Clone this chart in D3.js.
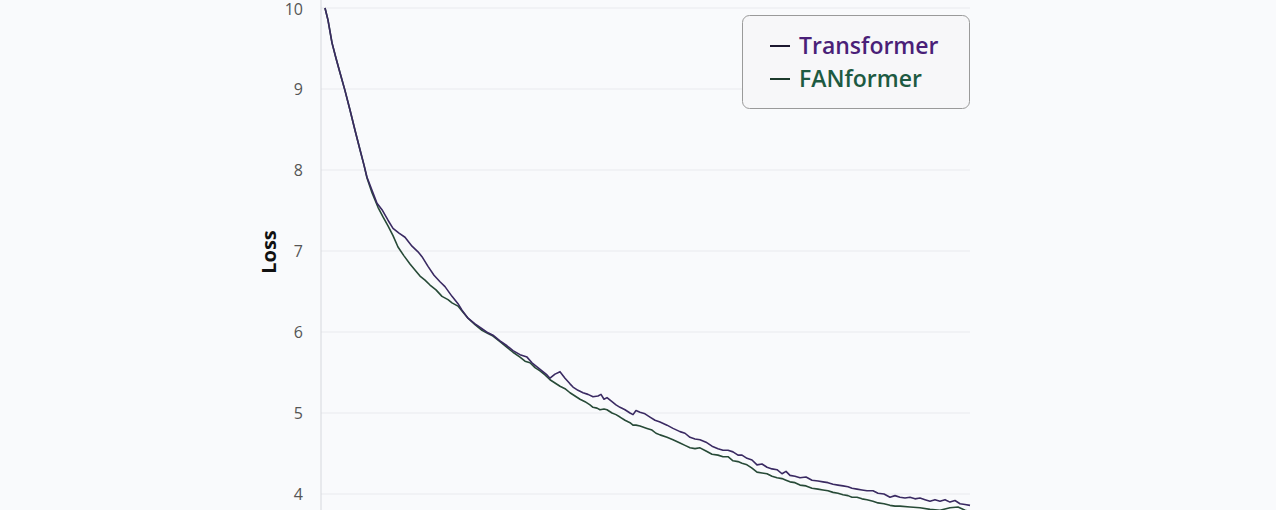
<!DOCTYPE html>
<html><head><meta charset="utf-8">
<script src="https://cdn.jsdelivr.net/npm/d3@7/dist/d3.min.js"></script>
<style>
html,body{margin:0;padding:0;background:#f9fafc;overflow:hidden;}
svg{display:block;}
</style></head>
<body>
<svg id="chart" width="1276" height="510"></svg>
<script>
const yTicks = [4,5,6,7,8,9,10];
const seriesNames = ["Transformer","FANformer"];
const seriesColors = ["#3a2a62","#274a37"];
const legendColors = ["#4a1f78","#1d5a42"];
const transformerSteps = [0,3,7,11,15,20,25,30,35,39,42,47,52,57,63,68,74,80,87,93,97,103,109,115,120,127,133,137,143,150,157,163,168,175,182,188,195,202,207,212,217,222,225,230,235,240,245,248,253,258,263,268,273,276,279,282,287,291,295,300,305,308,311,315,320,325,330,335,342,348,355,360,365,370,375,381,387,393,398,403,408,413,417,422,427,432,437,442,447,452,457,461,465,470,475,481,487,493,498,503,508,513,518,523,527,532,537,542,548,553,559,565,570,575,580,585,590,595,600,605,610,615,620,625,630,635,640,645];
const transformerLoss = [10.00,9.85,9.57,9.38,9.20,8.98,8.74,8.49,8.25,8.06,7.91,7.75,7.59,7.51,7.38,7.28,7.22,7.17,7.06,6.99,6.93,6.81,6.70,6.62,6.56,6.44,6.35,6.27,6.17,6.10,6.04,5.99,5.96,5.89,5.83,5.77,5.72,5.69,5.62,5.57,5.52,5.47,5.43,5.48,5.51,5.43,5.36,5.32,5.28,5.25,5.23,5.20,5.21,5.23,5.17,5.19,5.14,5.10,5.07,5.04,5.00,4.98,5.03,5.01,4.99,4.95,4.91,4.89,4.85,4.81,4.77,4.75,4.70,4.68,4.67,4.64,4.59,4.56,4.54,4.54,4.52,4.48,4.48,4.44,4.42,4.36,4.37,4.33,4.31,4.30,4.25,4.28,4.23,4.22,4.20,4.21,4.17,4.16,4.15,4.14,4.12,4.11,4.10,4.09,4.07,4.06,4.05,4.04,4.04,4.01,4.00,3.96,3.98,3.96,3.95,3.96,3.94,3.95,3.93,3.91,3.93,3.91,3.93,3.90,3.92,3.88,3.87,3.86];
const fanformerSteps = [0,3,7,11,15,20,25,30,35,39,42,47,53,58,63,68,73,79,85,91,95,100,105,111,117,123,127,133,137,143,150,157,163,168,175,182,188,195,200,205,210,215,220,225,230,235,240,245,250,255,260,265,268,272,275,279,282,287,291,295,300,305,308,311,315,322,327,331,335,342,348,355,360,365,370,375,381,387,393,398,403,408,413,417,422,427,432,437,442,447,452,457,461,465,470,475,481,487,493,498,503,508,513,518,523,527,532,537,542,548,553,559,565,570,575,585,595,605,615,625,633,640,645];
const fanformerLoss = [10.00,9.85,9.57,9.38,9.20,8.98,8.74,8.49,8.25,8.06,7.90,7.72,7.54,7.42,7.31,7.19,7.05,6.94,6.84,6.75,6.69,6.64,6.58,6.52,6.44,6.40,6.36,6.32,6.26,6.17,6.09,6.02,5.98,5.95,5.88,5.81,5.75,5.69,5.64,5.62,5.56,5.52,5.47,5.41,5.37,5.33,5.30,5.25,5.21,5.17,5.14,5.10,5.07,5.06,5.04,5.05,5.04,5.00,4.98,4.95,4.91,4.88,4.85,4.85,4.84,4.81,4.79,4.75,4.73,4.70,4.67,4.63,4.60,4.57,4.56,4.57,4.53,4.49,4.48,4.46,4.46,4.41,4.40,4.38,4.36,4.32,4.27,4.26,4.25,4.22,4.20,4.19,4.17,4.15,4.14,4.11,4.10,4.07,4.06,4.05,4.04,4.02,4.01,3.99,3.98,3.96,3.96,3.94,3.93,3.91,3.89,3.88,3.86,3.85,3.85,3.84,3.83,3.81,3.80,3.83,3.84,3.80,3.78];

const svg = d3.select("#chart");
const x = d3.scaleLinear().domain([0,645]).range([325,970]);
const y = d3.scaleLinear().domain([4,10]).range([494,8]);

// gridlines
svg.append("g").selectAll("line").data(yTicks).join("line")
  .attr("x1",321).attr("x2",970)
  .attr("y1",d=>y(d)).attr("y2",d=>y(d))
  .attr("stroke","#e9eaee").attr("stroke-width",1);

// y axis
const yAxis = d3.axisLeft(y).tickValues(yTicks).tickSize(0).tickPadding(18).tickFormat(d3.format("d"));
const ga = svg.append("g").attr("transform","translate(321,0)").call(yAxis);
ga.select(".domain").attr("stroke","#d6d8dd").attr("d","M0,0V510");
ga.selectAll("text").attr("font-family","'Open Sans', sans-serif").attr("font-size",16).attr("fill","#555");
ga.selectAll(".tick").filter(d=>d===10).select("text").attr("dy","0.36em").attr("y",1);

svg.append("text").attr("transform","translate(276,252) rotate(-90)")
  .attr("text-anchor","middle").attr("font-family","'Open Sans', sans-serif")
  .attr("font-weight",700).attr("font-size",20).attr("fill","#111").text("Loss");

const line = d3.line().x(d=>x(d[0])).y(d=>y(d[1])).curve(d3.curveLinear);
const data = [d3.zip(transformerSteps, transformerLoss), d3.zip(fanformerSteps, fanformerLoss)];
[1,0].forEach(i=>{
  svg.append("path").datum(data[i]).attr("d",line)
    .attr("fill","none").attr("stroke",seriesColors[i]).attr("stroke-width",1.6)
    .attr("stroke-linejoin","round");
});

// legend
const lg = svg.append("g");
lg.append("rect").attr("x",742.5).attr("y",15.5).attr("width",227).attr("height",93).attr("rx",7)
  .attr("fill","#f7f7f9").attr("stroke","#9a9a9a").attr("stroke-width",1);
seriesNames.forEach((n,i)=>{
  const ty = 54 + i*33;
  lg.append("line").attr("x1",770).attr("x2",790).attr("y1",ty-8).attr("y2",ty-8)
    .attr("stroke",i===0?"#1c1830":"#1c3a2c").attr("stroke-width",2);
  lg.append("text").attr("x",799).attr("y",ty).attr("font-family","'Open Sans', sans-serif")
    .attr("font-weight",600).attr("font-size",23).attr("fill",legendColors[i]).text(n);
});
</script>
</body></html>
